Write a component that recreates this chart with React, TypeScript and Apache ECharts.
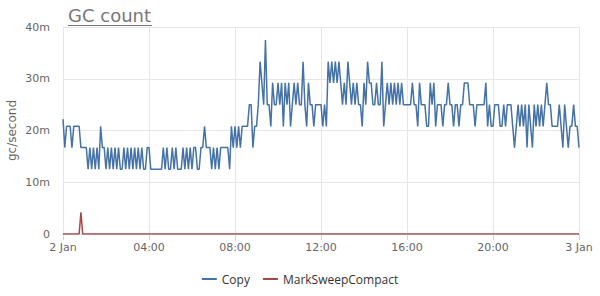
import React, { useEffect, useRef } from "react";
import * as echarts from "echarts";

const STEP_MIN = 5;
const xTickLabels = ["2 Jan", "04:00", "08:00", "12:00", "16:00", "20:00", "3 Jan"];

// Copy GC rate (m = milli gc/second), one value per 5 minutes, 2 Jan 00:00 -> 3 Jan 00:00
const copyValues: number[] = [
  // 00h
  22.2, 16.7, 20.8, 20.8, 20.8, 16.7, 20.8, 20.8, 20.8, 20.8, 16.7, 16.7,
  // 01h
  16.7, 16.7, 12.5, 16.7, 12.5, 16.7, 12.5, 16.7, 12.5, 20.8, 16.7, 16.7,
  // 02h
  12.5, 16.7, 12.5, 16.7, 12.5, 16.7, 12.5, 16.7, 12.5, 12.5, 16.7, 12.5,
  // 03h
  16.7, 12.5, 16.7, 12.5, 16.7, 12.5, 16.7, 12.5, 16.7, 12.5, 12.5, 16.7,
  // 04h
  16.7, 12.5, 12.5, 12.5, 12.5, 12.5, 12.5, 12.5, 16.7, 12.5, 16.7, 12.5,
  // 05h
  12.5, 16.7, 12.5, 16.7, 12.5, 12.5, 12.5, 16.7, 12.5, 16.7, 12.5, 16.7,
  // 06h
  12.5, 16.7, 16.7, 12.5, 12.5, 16.7, 16.7, 20.8, 16.7, 16.7, 16.7, 12.5,
  // 07h
  16.7, 12.5, 16.7, 12.5, 16.7, 16.7, 16.7, 16.7, 16.7, 12.5, 20.8, 16.7,
  // 08h
  20.8, 16.7, 20.8, 16.7, 20.8, 20.8, 20.8, 20.8, 25, 25, 16.7, 20.8,
  // 09h
  20.8, 25, 33.3, 29.2, 25, 37.5, 25, 25, 20.8, 29.2, 25, 25,
  // 10h
  29.2, 25, 29.2, 20.8, 29.2, 25, 29.2, 20.8, 25, 29.2, 25, 29.2,
  // 11h
  25, 25, 33.3, 25, 20.8, 29.2, 25, 25, 20.8, 25, 25, 25,
  // 12h
  25, 20.8, 25, 20.8, 33.3, 29.2, 33.3, 29.2, 33.3, 29.2, 33.3, 29.2,
  // 13h
  25, 29.2, 25, 33.3, 29.2, 25, 29.2, 25, 29.2, 25, 25, 20.8,
  // 14h
  29.2, 25, 33.3, 29.2, 29.2, 25, 25, 29.2, 25, 25, 33.3, 20.8,
  // 15h
  25, 29.2, 25, 29.2, 25, 29.2, 25, 29.2, 25, 29.2, 25, 25,
  // 16h
  25, 25, 25, 29.2, 25, 25, 20.8, 29.2, 25, 25, 25, 20.8,
  // 17h
  20.8, 29.2, 25, 29.2, 20.8, 25, 25, 25, 20.8, 25, 25, 29.2,
  // 18h
  25, 25, 20.8, 25, 25, 20.8, 25, 25, 29.2, 29.2, 29.2, 25,
  // 19h
  25, 25, 20.8, 25, 25, 25, 25, 25, 29.2, 20.8, 25, 20.8,
  // 20h
  20.8, 25, 25, 25, 20.8, 20.8, 25, 20.8, 25, 25, 25, 20.8,
  // 21h
  16.7, 20.8, 25, 20.8, 25, 20.8, 25, 16.7, 25, 20.8, 16.7, 25,
  // 22h
  20.8, 25, 20.8, 25, 20.8, 25, 29.2, 25, 25, 20.8, 20.8, 20.8,
  // 23h
  20.8, 25, 20.8, 16.7, 25, 20.8, 16.7, 20.8, 20.8, 25, 20.8, 20.8,
  // 3 Jan 00:00
  16.7,
];

// MarkSweepCompact: [sample index, value] (zero elsewhere)
const msIndex = [0, 9, 10, 11, 288];
const msValues = [0, 0, 4.2, 0, 0];

const BLUE = "#4572A7";
const RED = "#AA4643";
const FONT = "'DejaVu Sans', Verdana, sans-serif";
const LEGEND_FONT = "'Open Sans', 'Noto Sans', sans-serif";

export default function App() {
  const ref = useRef<HTMLDivElement>(null);
  useEffect(() => {
    const chart = echarts.init(ref.current!, null, { renderer: "svg" });
    const copyData = copyValues.map((v, i) => [(i * STEP_MIN) / 60, v]);
    const msData = msIndex.map((idx, k) => [(idx * STEP_MIN) / 60, msValues[k]]);
    chart.setOption({
      animation: false,
      textStyle: { fontFamily: FONT },
      grid: {
        left: 63,
        right: 21,
        top: 27,
        bottom: 62,
        containLabel: false,
        outerBoundsMode: "none",
      },
      graphic: [
        {
          type: "text",
          left: 68,
          top: 6,
          style: { text: "GC count", fontSize: 18, fill: "#777", fontFamily: FONT },
        },
        {
          type: "line",
          shape: { x1: 68, y1: 25.5, x2: 152, y2: 25.5 },
          style: { stroke: "#777", lineWidth: 1 },
        },
      ],
      legend: {
        bottom: 6,
        left: "center",
        itemWidth: 15,
        itemHeight: 2,
        itemGap: 13,
        icon: "rect",
        textStyle: { fontSize: 12, color: "#333", fontFamily: LEGEND_FONT },
        data: ["Copy", "MarkSweepCompact"],
      },
      xAxis: {
        type: "value",
        min: 0,
        max: 24,
        interval: 4,
        axisLine: { show: true, lineStyle: { color: "#ccd6eb" } },
        axisTick: { show: true, length: 6, lineStyle: { color: "#ccd6eb" } },
        splitLine: { show: true, lineStyle: { color: "#e6e6e6" } },
        axisLabel: {
          color: "#666",
          fontSize: 11,
          margin: 8,
          formatter: (v: number) => xTickLabels[Math.round(v / 4)] ?? "",
        },
      },
      yAxis: {
        type: "value",
        min: 0,
        max: 40,
        interval: 10,
        name: "gc/second",
        nameLocation: "middle",
        nameGap: 45,
        nameMoveOverlap: false,
        nameTextStyle: { color: "#666", fontSize: 12 },
        axisLine: { show: false },
        axisTick: { show: false },
        splitLine: { show: true, lineStyle: { color: "#e6e6e6" } },
        axisLabel: {
          color: "#666",
          fontSize: 11,
          margin: 13,
          formatter: (v: number) => (v === 0 ? "0" : `${v}m`),
        },
      },
      series: [
        {
          name: "Copy",
          type: "line",
          data: copyData,
          showSymbol: false,
          symbol: "none",
          lineStyle: { color: BLUE, width: 1.5 },
          itemStyle: { color: BLUE },
          z: 3,
        },
        {
          name: "MarkSweepCompact",
          type: "line",
          data: msData,
          showSymbol: false,
          symbol: "none",
          lineStyle: { color: RED, width: 1.5 },
          itemStyle: { color: RED },
          z: 2,
        },
      ],
    });
    return () => chart.dispose();
  }, []);
  return (
    <div
      ref={ref}
      style={{ position: "absolute", left: 0, top: 0, width: 600, height: 296 }}
    />
  );
}
